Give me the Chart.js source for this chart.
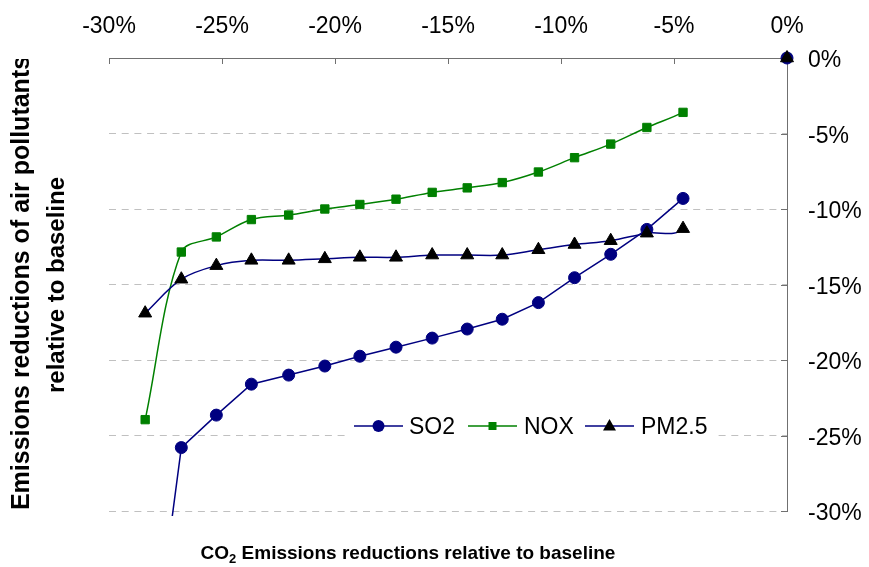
<!DOCTYPE html>
<html><head><meta charset="utf-8">
<script src="https://cdn.jsdelivr.net/npm/chart.js@4.4.0/dist/chart.umd.min.js"></script>
<style>html,body{margin:0;padding:0;background:#fff;overflow:hidden}</style>
</head><body>
<canvas id="c" width="869" height="567"></canvas>
<script>
// ---- data ----
const co2Reduction = [-28.4,-26.8,-25.25,-23.7,-22.05,-20.45,-18.9,-17.3,-15.7,-14.15,-12.6,-11.0,-9.4,-7.8,-6.2,-4.6,0];
const so2  = [-44,-25.8,-23.65,-21.6,-21.0,-20.4,-19.75,-19.15,-18.55,-17.95,-17.3,-16.2,-14.55,-13.0,-11.35,-9.3,0];
const nox  = [-23.95,-12.85,-11.85,-10.7,-10.4,-10.0,-9.7,-9.35,-8.9,-8.6,-8.25,-7.55,-6.6,-5.7,-4.6,-3.6,0];
const pm25 = [-16.9,-14.65,-13.75,-13.4,-13.4,-13.3,-13.2,-13.2,-13.05,-13.05,-13.05,-12.7,-12.35,-12.1,-11.6,-11.3,0];
const seriesNames = ['SO2','NOX','PM2.5'];
const xTitleMain = 'CO', xTitleSub = '2', xTitleRest = ' Emissions reductions relative to baseline';
const yTitleLines = ['Emissions reductions of air pollutants','relative to baseline'];
const axisMin = -30, axisMax = 0, axisStep = 5;

const NAVY = '#000080', GREEN = '#008000', AXIS = '#707070', GRID = '#c0c0c0';
const FONT = "'Liberation Sans', Arial, sans-serif";

const pts = arr => arr.map((v,i)=>({x: co2Reduction[i], y: v}));
const hideLast = n => ({ borderColor: c => c.p1DataIndex === n-1 ? 'rgba(0,0,0,0)' : undefined });
const clipOpt = {left: 10, top: 10, right: 10, bottom: 5};

const inwardTicks = {
  id: 'inwardTicks',
  beforeDatasetsDraw(chart) {
    const {ctx, chartArea: a, scales: {x, y}} = chart;
    ctx.save();
    ctx.strokeStyle = AXIS; ctx.lineWidth = 1;
    ctx.beginPath();
    x.ticks.forEach(t => { const p = Math.round(x.getPixelForValue(t.value)) + 0.5; ctx.moveTo(p, a.top); ctx.lineTo(p, a.top + 6); });
    y.ticks.forEach(t => { const p = Math.round(y.getPixelForValue(t.value)) + 0.5; ctx.moveTo(a.right, p); ctx.lineTo(a.right - 6, p); });
    ctx.stroke();
    ctx.restore();
  }
};

const extras = {
  id: 'extras',
  afterDraw(chart) {
    const {ctx, chartArea: a} = chart;
    ctx.save();
    // legend
    const ly = 426;
    ctx.fillStyle = '#fff';
    ctx.fillRect(347, ly - 16, 366, 32);
    const items = [
      {name: seriesNames[0], line: NAVY, mark: 'circle', fill: NAVY, x0: 354, tx: 409},
      {name: seriesNames[1], line: GREEN, mark: 'rect', fill: GREEN, x0: 468, tx: 524},
      {name: seriesNames[2], line: NAVY, mark: 'triangle', fill: '#000', x0: 585, tx: 641}
    ];
    ctx.font = '23px ' + FONT;
    ctx.textBaseline = 'middle'; ctx.textAlign = 'left';
    items.forEach(it => {
      ctx.strokeStyle = it.line; ctx.lineWidth = 1.5;
      ctx.beginPath(); ctx.moveTo(it.x0, ly); ctx.lineTo(it.x0 + 49, ly); ctx.stroke();
      const cx = it.x0 + 24.5;
      ctx.fillStyle = it.fill;
      ctx.beginPath();
      if (it.mark === 'circle') ctx.arc(cx, ly, 6, 0, Math.PI*2);
      else if (it.mark === 'rect') ctx.rect(cx - 4, ly - 4, 8, 8);
      else { ctx.moveTo(cx, ly - 7); ctx.lineTo(cx + 6.5, ly + 4.5); ctx.lineTo(cx - 6.5, ly + 4.5); ctx.closePath(); }
      ctx.fill();
      ctx.fillStyle = '#000';
      ctx.fillText(it.name, it.tx, ly + 2);
    });
    // x title (bottom)
    ctx.fillStyle = '#000';
    ctx.textBaseline = 'alphabetic';
    const bf = 'bold 19px ' + FONT, sf = 'bold 13px ' + FONT;
    ctx.font = bf; const w1 = ctx.measureText(xTitleMain).width, w3 = ctx.measureText(xTitleRest).width;
    ctx.font = sf; const w2 = ctx.measureText(xTitleSub).width;
    let sx = 408 - (w1 + w2 + w3) / 2, by = 559;
    ctx.font = bf; ctx.fillText(xTitleMain, sx, by); sx += w1;
    ctx.font = sf; ctx.fillText(xTitleSub, sx, by + 4); sx += w2;
    ctx.font = bf; ctx.fillText(xTitleRest, sx, by);
    // y title (left, rotated)
    ctx.beginPath(); ctx.rect(0, 59, 105, 567); ctx.clip();
    ctx.translate(0, 283);
    ctx.rotate(-Math.PI / 2);
    ctx.textAlign = 'center';
    ctx.font = 'bold 25px ' + FONT;
    ctx.fillText(yTitleLines[0], 0, 29);
    ctx.font = 'bold 24px ' + FONT;
    ctx.fillText(yTitleLines[1], -2, 64);
    ctx.restore();
  }
};

new Chart(document.getElementById('c'), {
  type: 'line',
  data: {
    datasets: [
      {label: seriesNames[0], data: pts(so2), borderColor: NAVY, backgroundColor: NAVY, borderWidth: 1.5,
       pointStyle: 'circle', pointRadius: 6, pointBackgroundColor: NAVY, pointBorderColor: NAVY, pointBorderWidth: 1,
       tension: 0, segment: hideLast(so2.length), clip: clipOpt, order: 2},
      {label: seriesNames[1], data: pts(nox), borderColor: GREEN, backgroundColor: GREEN, borderWidth: 1.5,
       pointStyle: 'rect', pointRadius: 5.9, pointBackgroundColor: GREEN, pointBorderColor: GREEN, pointBorderWidth: 1,
       tension: 0.33, segment: hideLast(nox.length), clip: clipOpt, order: 3},
      {label: seriesNames[2], data: pts(pm25), borderColor: NAVY, backgroundColor: '#000', borderWidth: 1.5,
       pointStyle: 'triangle', pointRadius: 7.5, pointBackgroundColor: '#000', pointBorderColor: '#000', pointBorderWidth: 1,
       tension: 0.33, segment: hideLast(pm25.length), clip: clipOpt, order: 1}
    ]
  },
  options: {
    responsive: false,
    animation: false,
    events: [],
    layout: {padding: {left: 109, right: 0, top: 0, bottom: 56}},
    plugins: {legend: {display: false}, tooltip: {enabled: false}, title: {display: false}},
    scales: {
      x: {
        type: 'linear', position: 'top', min: axisMin, max: axisMax,
        afterFit: s => { s.height = 58; },
        grid: {display: false, drawTicks: false},
        border: {display: true, color: AXIS, width: 1},
        ticks: {stepSize: axisStep, autoSkip: false, maxRotation: 0, padding: 18, color: '#000',
                font: {family: FONT, size: 23}, callback: v => v + '%'}
      },
      y: {
        type: 'linear', position: 'right', min: axisMin, max: axisMax,
        afterFit: s => { s.width = 82; },
        grid: {drawTicks: false, lineWidth: 1,
               color: c => (c.tick && c.tick.value === 0) ? 'rgba(0,0,0,0)' : GRID},
        border: {display: true, color: AXIS, width: 1, dash: [7, 5.7]},
        ticks: {stepSize: axisStep, autoSkip: false, padding: 21, labelOffset: 3, color: '#000',
                font: {family: FONT, size: 23}, callback: v => v + '%'}
      }
    }
  },
  plugins: [inwardTicks, extras]
});
</script>
</body></html>
